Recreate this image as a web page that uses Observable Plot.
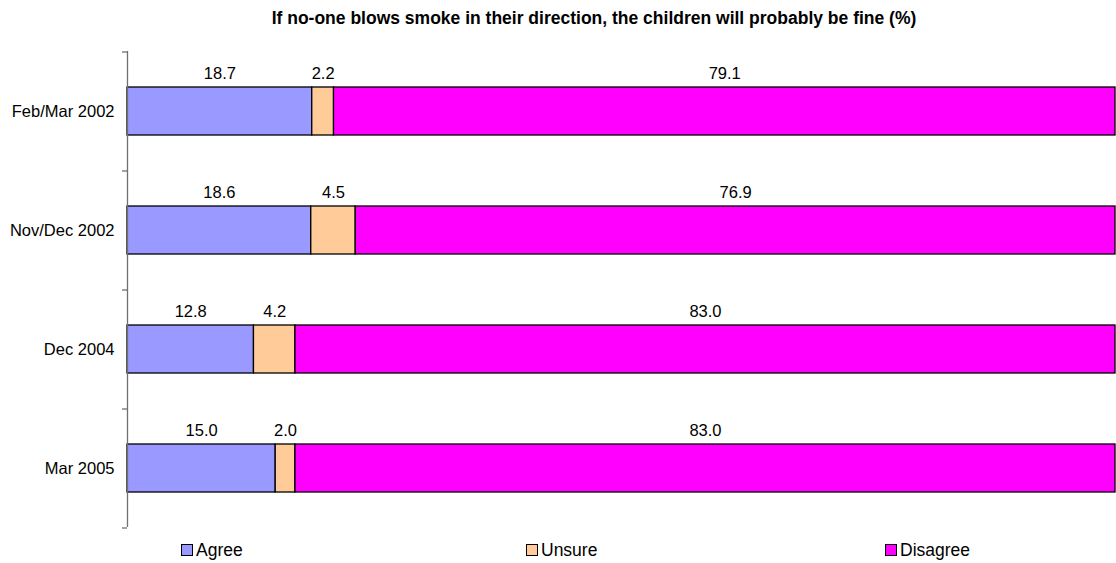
<!DOCTYPE html>
<html>
<head>
<meta charset="utf-8">
<script src="https://cdn.jsdelivr.net/npm/d3@7"></script>
<script src="https://cdn.jsdelivr.net/npm/@observablehq/plot@0.6"></script>
<style>
  html, body { margin: 0; padding: 0; background: #fff; }
  body { width: 1116px; height: 563px; position: relative; overflow: hidden; font-family: "Liberation Sans", Arial, sans-serif; }
  #title { position: absolute; left: 0; top: 0; width: 1188px; text-align: center; font-weight: bold; font-size: 17.5px; line-height: 18px; padding-top: 9px; color: #000; }
  #chart { position: absolute; left: 0; top: 36px; }
  .leg { position: absolute; top: 541px; font-size: 17.5px; line-height: 18px; color: #000; display: flex; align-items: center; }
  .leg span.sw { display: inline-block; width: 10px; height: 10px; border: 1px solid #000; margin-right: 3px; }
</style>
</head>
<body>
<div id="title">If no-one blows smoke in their direction, the children will probably be fine (%)</div>
<div id="chart"></div>
<div id="legend"></div>
<script>
const categories = ["Feb/Mar 2002", "Nov/Dec 2002", "Dec 2004", "Mar 2005"];
const series = ["Agree", "Unsure", "Disagree"];
const agree = [18.7, 18.6, 12.8, 15.0];
const unsure = [2.2, 4.5, 4.2, 2.0];
const disagree = [79.1, 76.9, 83.0, 83.0];
const colors = ["#9999FF", "#FFCC99", "#FF00FF"];

const valuesBySeries = [agree, unsure, disagree];
const data = [];
series.forEach((s, si) => {
  categories.forEach((c, ci) => {
    data.push({category: c, series: s, value: valuesBySeries[si][ci]});
  });
});

const W = 1116, H = 500;
const mTop = 15, mBottom = 9;
const step = (H - mTop - mBottom) / categories.length;

const chart = Plot.plot({
  width: W,
  height: H,
  marginLeft: 127,
  marginRight: 1,
  marginTop: mTop,
  marginBottom: mBottom,
  style: {fontFamily: "Liberation Sans, Arial, sans-serif", fontSize: "16px", color: "#000", background: "#fff"},
  x: {domain: [0, 100], axis: null},
  y: {domain: categories, paddingInner: 0.6, paddingOuter: 0.3, label: null},
  color: {domain: series, range: colors},
  marks: [
    Plot.barX(data, Plot.stackX({x: "value", y: "category", fill: "series", order: series, stroke: "#000", strokeWidth: 1.3})),
    Plot.text(data, Plot.stackX({x: "value", y: "category", z: "series", order: series, text: d => d3.format(".1f")(d.value), dy: -37.5, fill: "#000", fontSize: 16.5})),
    Plot.ruleX([0], {stroke: "#707070", strokeWidth: 1.3}),
    Plot.axisY({tickSize: 0, tickPadding: 13, fontSize: 16.5, label: null}),
    Plot.axisY({tickSize: 5, text: null, dy: -step / 2, stroke: "#707070", strokeWidth: 1.3, label: null}),
    Plot.axisY({ticks: [categories[categories.length - 1]], tickSize: 5, text: null, dy: step / 2, stroke: "#707070", strokeWidth: 1.3, label: null})
  ]
});
document.getElementById("chart").appendChild(chart);

const legendX = [181, 526, 885];
const legend = document.getElementById("legend");
series.forEach((s, i) => {
  const d = document.createElement("div");
  d.className = "leg";
  d.style.left = legendX[i] + "px";
  const sw = document.createElement("span");
  sw.className = "sw";
  sw.style.background = colors[i];
  d.appendChild(sw);
  d.appendChild(document.createTextNode(s));
  legend.appendChild(d);
});
</script>
</body>
</html>
